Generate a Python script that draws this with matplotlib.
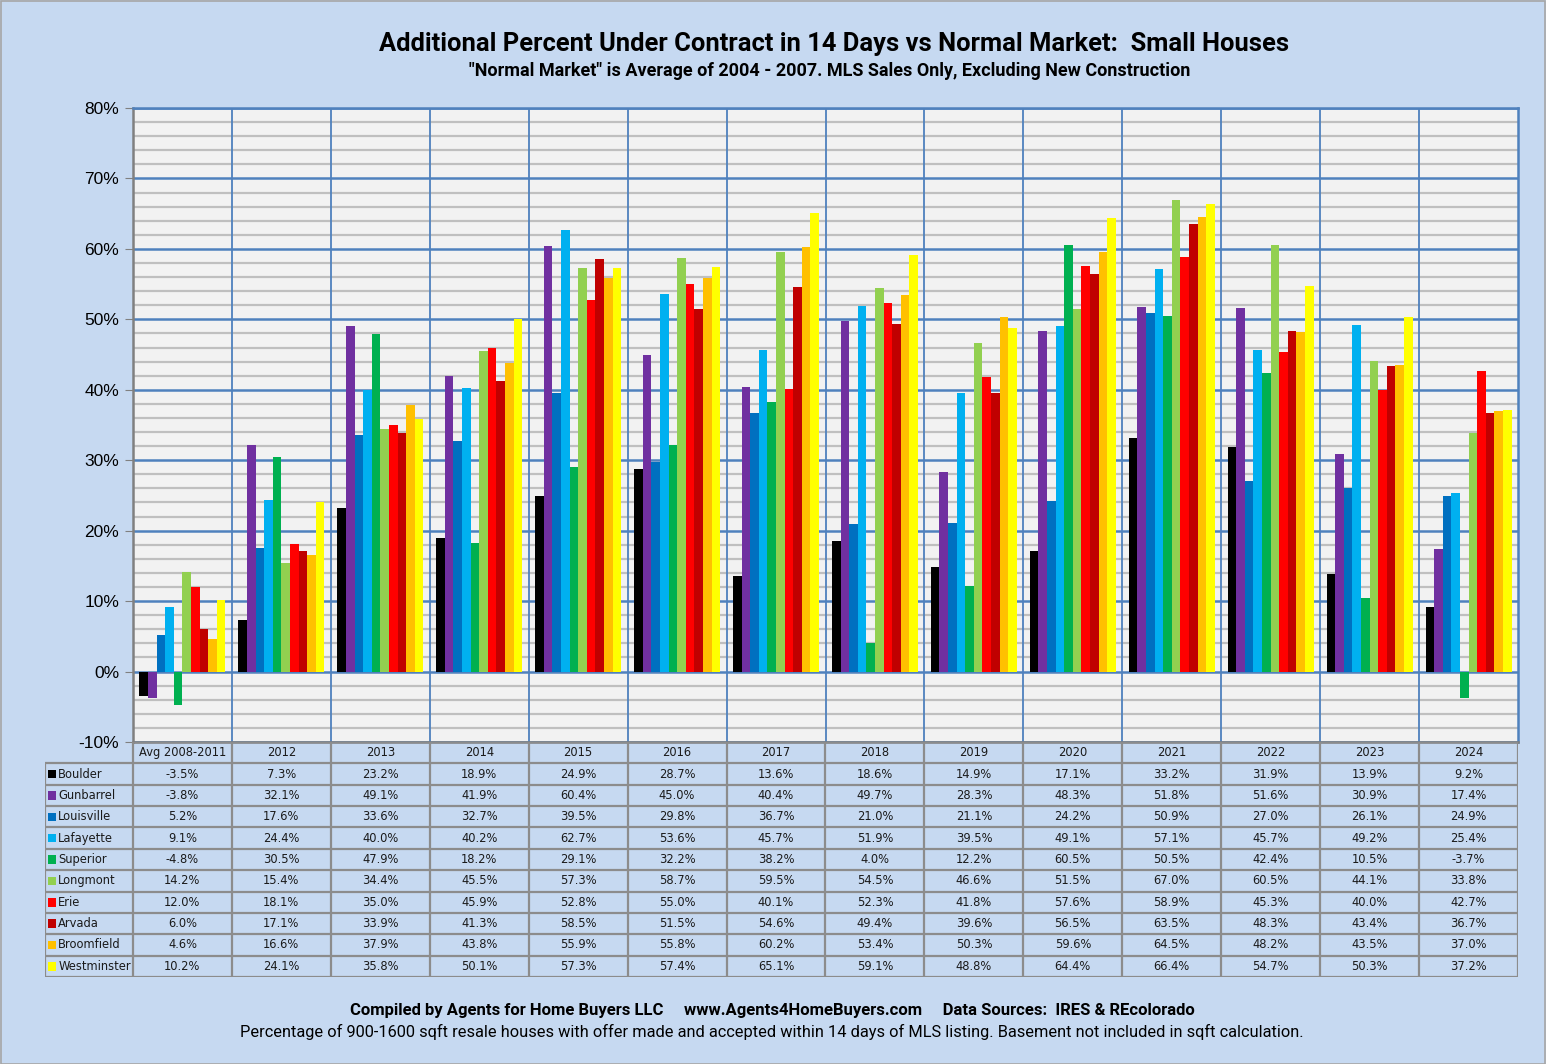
import matplotlib
matplotlib.use('Agg')
import matplotlib.pyplot as plt
from matplotlib import font_manager as fm
from matplotlib.patches import Rectangle
import numpy as np

categories = ['Avg 2008-2011', '2012', '2013', '2014', '2015', '2016', '2017',
              '2018', '2019', '2020', '2021', '2022', '2023', '2024']
cities = ['Boulder', 'Gunbarrel', 'Louisville', 'Lafayette', 'Superior',
          'Longmont', 'Erie', 'Arvada', 'Broomfield', 'Westminster']
colors = ['#000000', '#7030A0', '#0070C0', '#00B0F0', '#00B050',
          '#92D050', '#FF0000', '#C00000', '#FFC000', '#FFFF00']

boulder = [-3.5, 7.3, 23.2, 18.9, 24.9, 28.7, 13.6, 18.6, 14.9, 17.1, 33.2, 31.9, 13.9, 9.2]
gunbarrel = [-3.8, 32.1, 49.1, 41.9, 60.4, 45.0, 40.4, 49.7, 28.3, 48.3, 51.8, 51.6, 30.9, 17.4]
louisville = [5.2, 17.6, 33.6, 32.7, 39.5, 29.8, 36.7, 21.0, 21.1, 24.2, 50.9, 27.0, 26.1, 24.9]
lafayette = [9.1, 24.4, 40.0, 40.2, 62.7, 53.6, 45.7, 51.9, 39.5, 49.1, 57.1, 45.7, 49.2, 25.4]
superior = [-4.8, 30.5, 47.9, 18.2, 29.1, 32.2, 38.2, 4.0, 12.2, 60.5, 50.5, 42.4, 10.5, -3.7]
longmont = [14.2, 15.4, 34.4, 45.5, 57.3, 58.7, 59.5, 54.5, 46.6, 51.5, 67.0, 60.5, 44.1, 33.8]
erie = [12.0, 18.1, 35.0, 45.9, 52.8, 55.0, 40.1, 52.3, 41.8, 57.6, 58.9, 45.3, 40.0, 42.7]
arvada = [6.0, 17.1, 33.9, 41.3, 58.5, 51.5, 54.6, 49.4, 39.6, 56.5, 63.5, 48.3, 43.4, 36.7]
broomfield = [4.6, 16.6, 37.9, 43.8, 55.9, 55.8, 60.2, 53.4, 50.3, 59.6, 64.5, 48.2, 43.5, 37.0]
westminster = [10.2, 24.1, 35.8, 50.1, 57.3, 57.4, 65.1, 59.1, 48.8, 64.4, 66.4, 54.7, 50.3, 37.2]

series = [boulder, gunbarrel, louisville, lafayette, superior,
          longmont, erie, arvada, broomfield, westminster]

yticks = [-10, 0, 10, 20, 30, 40, 50, 60, 70, 80]

title = 'Additional Percent Under Contract in 14 Days vs Normal Market:  Small Houses'
subtitle = '"Normal Market" is Average of 2004 - 2007. MLS Sales Only, Excluding New Construction'
footer1 = 'Compiled by Agents for Home Buyers LLC     www.Agents4HomeBuyers.com     Data Sources:  IRES & REcolorado'
footer2 = ('Percentage of 900-1600 sqft resale houses with offer made and accepted within 14 days '
           'of MLS listing. Basement not included in sqft calculation.')

avail = {f.name for f in fm.fontManager.ttflist}
narrow = 'Liberation Sans Narrow' if 'Liberation Sans Narrow' in avail else 'Roboto'
plt.rcParams['font.family'] = [narrow, 'DejaVu Sans']

W, H = 1546, 1064
BG = '#C6D9F1'
BLUE = '#4F81BD'
GRAYLINE = '#8C8C8C'

fig = plt.figure(figsize=(W / 100, H / 100), dpi=100, facecolor=BG)
fig.patches.append(Rectangle((0.5 / W, 0.5 / H), 1 - 1.5 / W, 1 - 1.5 / H,
                             transform=fig.transFigure, fill=False,
                             edgecolor='#A6A6A6', lw=1.2))

L, R, T, B = 133, 1518, 108, 742
ax = fig.add_axes([L / W, 1 - B / H, (R - L) / W, (B - T) / H])
ax.set_facecolor('#F2F2F2')

n = len(categories)
x = np.arange(n)
bw = 0.087
for j, (vals, c) in enumerate(zip(series, colors)):
    ax.bar(x + (j - 4.5) * bw, vals, width=bw, color=c, zorder=3, linewidth=0)

ax.set_xlim(-0.5, n - 0.5)
ax.set_ylim(-10, 80)
ax.set_yticks(yticks)
ax.set_yticklabels([f'{t}%' for t in yticks], fontsize=12.5, family=['Liberation Sans', 'DejaVu Sans'])
ax.set_yticks(np.arange(-10, 81, 2), minor=True)
ax.grid(which='minor', axis='y', color='#BFBFBF', lw=1.6, zorder=1)
ax.grid(which='major', axis='y', color=BLUE, lw=1.8, zorder=2)
for b in np.arange(0.5, n - 0.5, 1):
    ax.axvline(b, color=BLUE, lw=1.3, zorder=2)
ax.set_xticks([])
ax.tick_params(axis='y', which='major', length=6, color='#808080', pad=4)
ax.tick_params(axis='y', which='minor', length=0)
ax.spines['left'].set_color('#808080')
ax.spines['bottom'].set_color('#808080')
ax.spines['top'].set_color(BLUE)
ax.spines['right'].set_color(BLUE)
for s in ax.spines.values():
    s.set_linewidth(1.8)

# data table
TL, TB = 45, 977
catw = (R - L) / n
lab_w = (L - TL) / catw
tax = fig.add_axes([TL / W, 1 - TB / H, (R - TL) / W, (TB - B) / H])
tax.set_xlim(-0.5 - lab_w, n - 0.5)
tax.set_ylim(len(cities) + 1, 0)
tax.axis('off')
lk = dict(color=GRAYLINE, lw=1.6, solid_capstyle='butt')
tax.plot([-0.5, n - 0.5], [0, 0], **lk)
for r in range(1, len(cities) + 2):
    tax.plot([-0.5 - lab_w, n - 0.5], [r, r], **lk)
tax.plot([-0.5 - lab_w] * 2, [1, len(cities) + 1], **lk)
for b in np.arange(-0.5, n, 1):
    tax.plot([b, b], [0, len(cities) + 1], **lk)

tfont = dict(fontsize=8.3, family=['DejaVu Sans'], color='#1A1A1A', va='center')
for i, cat in enumerate(categories):
    tax.text(i, 0.5, cat, ha='center', **tfont)
for r, (city, vals, c) in enumerate(zip(cities, series, colors), start=1):
    tax.add_patch(Rectangle((-0.5 - lab_w + 0.035, r + 0.5 - 0.2), 0.075, 0.4,
                            facecolor=c, edgecolor='none'))
    tax.text(-0.5 - lab_w + 0.135, r + 0.5, city, ha='left', **tfont)
    for i, v in enumerate(vals):
        tax.text(i, r + 0.5, f'{v:.1f}%', ha='center', **tfont)

# titles
fig.text(834 / W, 1 - 44 / H, title, ha='center', va='center',
         fontsize=18.4, fontweight='bold')
fig.text(830 / W, 1 - 71 / H, subtitle, ha='center', va='center',
         fontsize=13, fontweight='bold')
fig.text(772 / W, 1 - 1011 / H, footer1, ha='center', va='center',
         fontsize=12, fontweight='bold')
fig.text(772 / W, 1 - 1032 / H, footer2, ha='center', va='center',
         fontsize=11.8)

fig.savefig('out.png', dpi=100, facecolor=BG)
